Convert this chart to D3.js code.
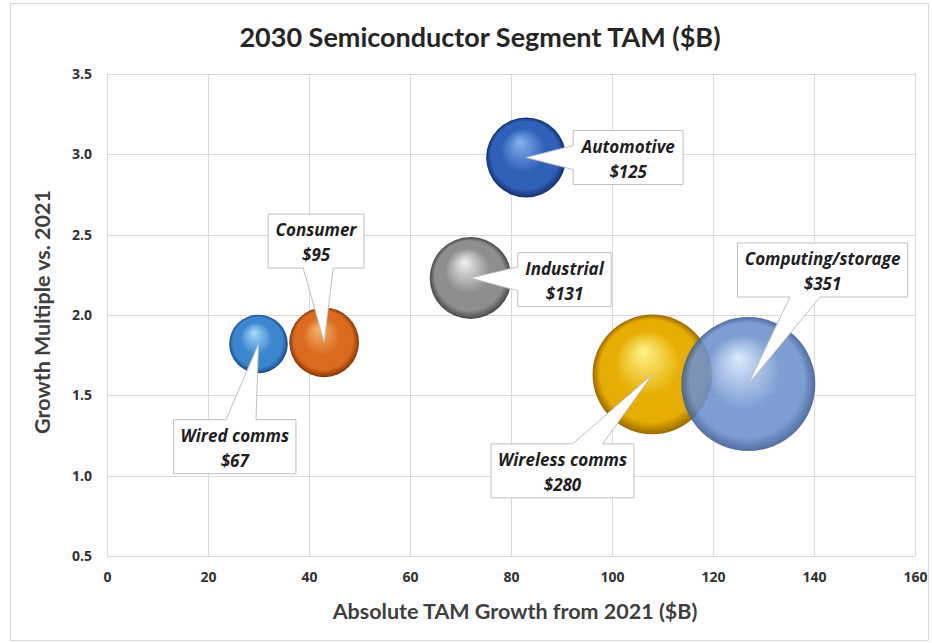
<!DOCTYPE html>
<html>
<head>
<meta charset="utf-8">
<script src="https://cdn.jsdelivr.net/npm/d3@7"></script>
<style>
  html, body { margin: 0; padding: 0; background: #ffffff; }
  svg { display: block; }
  text { font-family: Lato, "Open Sans", "Liberation Sans", sans-serif; }
</style>
</head>
<body>
<svg id="chart" width="932" height="643"></svg>
<script>
// Semiconductor segments: absolute TAM growth, growth multiple and 2030 TAM
const segments = ["Wired comms", "Consumer", "Industrial", "Automotive", "Wireless comms", "Computing/storage"];
const tamGrowth = [30, 43, 72, 83, 108, 127];          // $B growth from 2021
const growthMultiple = [1.82, 1.83, 2.23, 2.98, 1.63, 1.57];
const tam2030 = [67, 95, 131, 125, 280, 351];          // 2030 TAM, $B (bubble size)

const xTicks = [0, 20, 40, 60, 80, 100, 120, 140, 160];
const yTicks = [0.5, 1.0, 1.5, 2.0, 2.5, 3.0, 3.5];

const titleText = "2030 Semiconductor Segment TAM ($B)";
const xTitle = "Absolute TAM Growth from 2021 ($B)";
const yTitle = "Growth Multiple vs. 2021";

// Sphere shading per segment: highlight, body, rim
const sphereColors = [
  ["#a8dcfa", "#3c86cf", "#1d4c86"],
  ["#f7b46c", "#d96a1e", "#853606"],
  ["#f0f0f0", "#8e8e8e", "#474747"],
  ["#86b2ee", "#2f61b8", "#15316c"],
  ["#fff38a", "#e6ae02", "#9c6a00"],
  ["#d6e7fc", "#6d91cd", "#3c5b95"]
];

// Callout box centres, given in data units
const calloutAt = [
  [25.3, 1.18], [41.4, 2.46], [90.6, 2.22], [103.2, 2.98], [90.2, 1.03], [141.7, 2.28]
];

const svg = d3.select("#chart");
const W = 932, H = 643;
const plot = { left: 107, right: 915, top: 74, bottom: 556 };

// Outer chart frame
svg.append("rect")
  .attr("x", 10.5).attr("y", 3.5).attr("width", W - 14).attr("height", H - 6)
  .attr("fill", "#ffffff").attr("stroke", "#d9d9d9").attr("stroke-width", 1);

const x = d3.scaleLinear().domain([0, 160]).range([plot.left, plot.right]);
const y = d3.scaleLinear().domain([0.5, 3.5]).range([plot.bottom, plot.top]);
// Bubble area proportional to TAM
const r = d3.scaleSqrt().domain([0, 351]).range([0, 67]);

// Gridlines
const grid = svg.append("g").attr("stroke", "#d9d9d9").attr("stroke-width", 1);
grid.selectAll("line.v").data(xTicks).join("line")
  .attr("x1", d => Math.round(x(d)) + 0.5).attr("x2", d => Math.round(x(d)) + 0.5)
  .attr("y1", plot.top).attr("y2", plot.bottom);
grid.selectAll("line.h").data(yTicks).join("line")
  .attr("y1", d => Math.round(y(d)) + 0.5).attr("y2", d => Math.round(y(d)) + 0.5)
  .attr("x1", plot.left).attr("x2", plot.right);

// Axes (labels only, lines come from the grid)
const xAxis = svg.append("g")
  .attr("transform", `translate(0,${plot.bottom + 10})`)
  .call(d3.axisBottom(x).tickValues(xTicks).tickFormat(d3.format("d")).tickSize(0));
const yAxis = svg.append("g")
  .attr("transform", `translate(${plot.left - 12},0)`)
  .call(d3.axisLeft(y).tickValues(yTicks).tickFormat(d3.format(".1f")).tickSize(0));
[xAxis, yAxis].forEach(a => {
  a.select(".domain").remove();
  a.selectAll("text")
    .attr("fill", "#333333").attr("font-size", 14).attr("font-weight", "bold")
    .style("font-family", "'Open Sans', Lato, sans-serif");
});
xAxis.selectAll("text").attr("dy", "0.9em");

// Titles
svg.append("text").attr("x", 480).attr("y", 47).attr("text-anchor", "middle")
  .attr("font-size", 27).attr("font-weight", "bold").attr("fill", "#262626")
  .text(titleText);
svg.append("text").attr("x", 515).attr("y", 619).attr("text-anchor", "middle")
  .attr("font-size", 21.5).attr("font-weight", "bold").attr("fill", "#404040")
  .text(xTitle);
svg.append("text").attr("transform", "translate(50,312) rotate(-90)").attr("text-anchor", "middle")
  .attr("font-size", 21.5).attr("font-weight", "bold").attr("fill", "#404040")
  .text(yTitle);

// Sphere gradients
const defs = svg.append("defs");
sphereColors.forEach((c, i) => {
  const g = defs.append("radialGradient").attr("id", "sphere" + i)
    .attr("cx", "50%").attr("cy", "50%").attr("r", "50%")
    .attr("fx", "42%").attr("fy", "30%");
  g.append("stop").attr("offset", "0%").attr("stop-color", c[0]);
  g.append("stop").attr("offset", "55%").attr("stop-color", c[1]);
  g.append("stop").attr("offset", "85%").attr("stop-color", c[1]);
  g.append("stop").attr("offset", "100%").attr("stop-color", c[2]);
});

const data = segments.map((name, i) => ({
  name, gx: tamGrowth[i], gy: growthMultiple[i], tam: tam2030[i], i
}));

svg.append("g").selectAll("circle").data(data).join("circle")
  .attr("cx", d => x(d.gx)).attr("cy", d => y(d.gy)).attr("r", d => r(d.tam))
  .attr("fill", d => `url(#sphere${d.i})`)
  .attr("opacity", d => d.name === "Computing/storage" ? 0.88 : 1);

// Callouts: box with a wedge pointing at the bubble centre
const calloutG = svg.append("g");
data.forEach(d => {
  const g = calloutG.append("g");
  const cx = x(calloutAt[d.i][0]), cy = y(calloutAt[d.i][1]);
  const t = g.append("text").attr("text-anchor", "middle")
    .attr("font-size", 17).attr("font-weight", "bold").attr("font-style", "italic")
    .attr("fill", "#1f1f1f").style("font-family", "'Open Sans', Lato, sans-serif");
  t.append("tspan").attr("x", cx).attr("y", cy - 5).text(d.name);
  t.append("tspan").attr("x", cx).attr("y", cy + 20).text("$" + d.tam);
  const bb = t.node().getBBox();
  const hw = bb.width / 2 + 7, hh = 27;
  const x0 = cx - hw, x1 = cx + hw, y0 = cy - hh, y1 = cy + hh;
  const tx = x(d.gx), ty = y(d.gy);
  // Find which edge the line from box centre to the tip leaves through
  const dx = tx - cx, dy = ty - cy;
  const sx = Math.abs(dx) > 0 ? hw / Math.abs(dx) : Infinity;
  const sy = Math.abs(dy) > 0 ? hh / Math.abs(dy) : Infinity;
  const half = 15;
  let pts;
  if (sy < sx) {
    const ex = cx + dx * sy;
    const b1 = Math.max(x0 + 2, Math.min(x1 - 2 - 2 * half, ex - half));
    if (dy < 0) {
      pts = [[x0, y0], [b1, y0], [tx, ty], [b1 + 2 * half, y0], [x1, y0], [x1, y1], [x0, y1]];
    } else {
      pts = [[x0, y0], [x1, y0], [x1, y1], [b1 + 2 * half, y1], [tx, ty], [b1, y1], [x0, y1]];
    }
  } else {
    const ey = cy + dy * sx;
    const b1 = Math.max(y0 + 2, Math.min(y1 - 2 - 2 * half, ey - half * 0.8));
    const b2 = b1 + 1.6 * half;
    if (dx < 0) {
      pts = [[x0, y0], [x1, y0], [x1, y1], [x0, y1], [x0, b2], [tx, ty], [x0, b1]];
    } else {
      pts = [[x0, y0], [x1, y0], [x1, b1], [tx, ty], [x1, b2], [x1, y1], [x0, y1]];
    }
  }
  g.insert("path", "text")
    .attr("d", d3.line()(pts) + "Z")
    .attr("fill", "#ffffff").attr("stroke", "#bfbfbf").attr("stroke-width", 1);
});
</script>
</body>
</html>
